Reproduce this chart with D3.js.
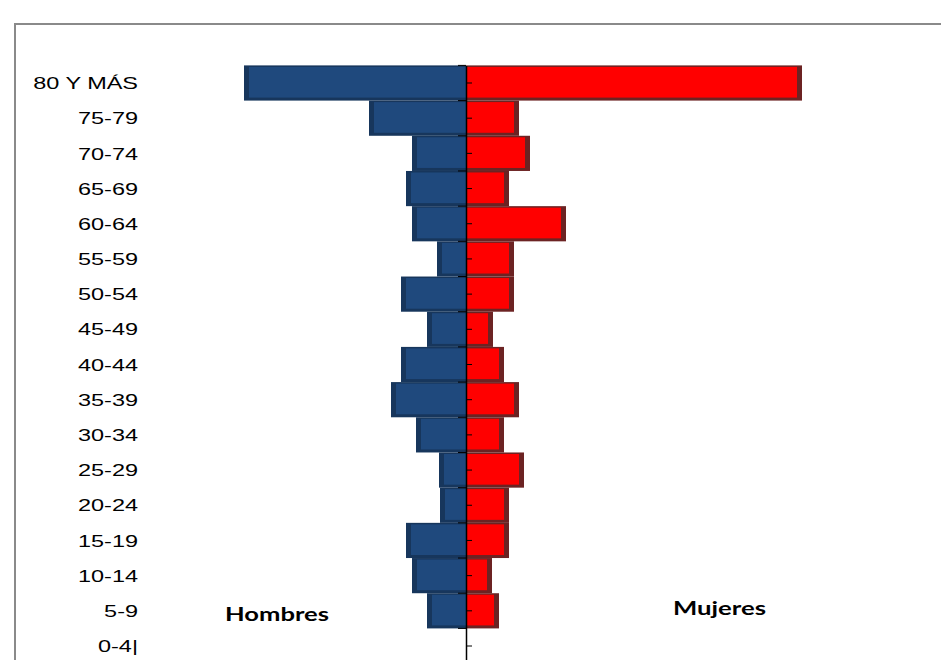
<!DOCTYPE html>
<html>
<head>
<meta charset="utf-8">
<script src="https://cdn.jsdelivr.net/npm/d3@7"></script>
<style>
  body { margin: 0; background: #fff; }
  svg { display: block; }
</style>
</head>
<body>
<div id="chart"></div>
<script>
// Age groups, top to bottom
const ageGroups = ["80 Y MÁS", "75-79", "70-74", "65-69", "60-64", "55-59", "50-54", "45-49",
  "40-44", "35-39", "30-34", "25-29", "20-24", "15-19", "10-14", "5-9", "0-4|"];
// Men (drawn to the left) and women (drawn to the right)
const hombres = [222, 97, 54, 60, 54, 29, 65, 39, 65, 75, 50, 27, 26, 60, 54, 39, 0];
const mujeres = [336, 53, 64, 43, 100, 48, 48, 27, 38, 53, 38, 58, 43, 43, 26, 33, 0];
const sexLabels = ["Hombres", "Mujeres"];

const width = 941;
const height = 660;

const svg = d3.select("#chart").append("svg")
  .attr("width", width)
  .attr("height", height);

// Chart frame (cropped at the right and bottom)
svg.append("rect")
  .attr("x", 15).attr("y", 24)
  .attr("width", 1000).attr("height", 1000)
  .attr("fill", "none")
  .attr("stroke", "#8a8a8a")
  .attr("stroke-width", 2);

// Scales
const y = d3.scaleBand()
  .domain(ageGroups)
  .range([65.4, 663.6])
  .padding(0);

const x = d3.scaleLinear()
  .domain([-300, 300])
  .range([166, 766]);

const rows = ageGroups.map((g, i) => ({ group: g, men: hombres[i], women: mujeres[i] }));

// Men bars: dark base with inset fill (shadow on left and bottom)
const men = svg.append("g").selectAll("g").data(rows.filter((d) => d.men > 0)).join("g");
men.append("rect")
  .attr("x", (d) => x(-d.men))
  .attr("y", (d) => y(d.group))
  .attr("width", (d) => x(0) - x(-d.men))
  .attr("height", y.bandwidth())
  .attr("fill", "#17365c");
men.append("rect")
  .attr("x", (d) => x(-d.men) + 5)
  .attr("y", (d) => y(d.group) + 1.5)
  .attr("width", (d) => x(0) - x(-d.men) - 5)
  .attr("height", y.bandwidth() - 4.5)
  .attr("fill", "#1f497d");

// Women bars: dark base with inset fill (shadow on right and bottom)
const women = svg.append("g").selectAll("g").data(rows.filter((d) => d.women > 0)).join("g");
women.append("rect")
  .attr("x", x(0))
  .attr("y", (d) => y(d.group))
  .attr("width", (d) => x(d.women) - x(0))
  .attr("height", y.bandwidth())
  .attr("fill", "#6c2323");
women.append("rect")
  .attr("x", x(0))
  .attr("y", (d) => y(d.group) + 1.5)
  .attr("width", (d) => x(d.women) - x(0) - 5)
  .attr("height", y.bandwidth() - 4.5)
  .attr("fill", "#ff0000");

// Center axis with minor ticks at category centres
const axis = svg.append("g")
  .attr("transform", `translate(${x(0)},0)`)
  .call(d3.axisRight(y).tickSize(6).tickSizeOuter(0).tickFormat(""));
axis.select(".domain").attr("stroke", "#000").attr("stroke-width", 1.5);
axis.selectAll(".tick line").attr("stroke", "#000");

// Boundary ticks to the left of the axis
const bounds = ageGroups.map((g) => y(g)).concat([y.range()[1]]);
svg.append("g").selectAll("line").data(bounds).join("line")
  .attr("x1", x(0) - 8).attr("x2", x(0))
  .attr("y1", (d) => d).attr("y2", (d) => d)
  .attr("stroke", "#000");

// Category labels
const labels = svg.append("g")
  .attr("transform", "translate(138,0)")
  .call(d3.axisLeft(y).tickSize(0).tickPadding(0));
labels.select(".domain").remove();
labels.selectAll(".tick text")
  .attr("x", 0)
  .attr("dy", "0.36em")
  .attr("font-family", "'Liberation Sans', Arial, sans-serif")
  .attr("font-size", 17)
  .attr("fill", "#000")
  .attr("transform", "scale(1.38,1)");

// Sex labels
svg.append("text")
  .attr("x", 225).attr("y", 621)
  .attr("font-family", "Lato, 'Open Sans', sans-serif")
  .attr("font-weight", "bold")
  .attr("font-size", 19.5)
  .attr("textLength", 104)
  .attr("lengthAdjust", "spacingAndGlyphs")
  .text(sexLabels[0]);
svg.append("text")
  .attr("x", 673).attr("y", 615)
  .attr("font-family", "Lato, 'Open Sans', sans-serif")
  .attr("font-weight", "bold")
  .attr("font-size", 19.5)
  .attr("textLength", 93)
  .attr("lengthAdjust", "spacingAndGlyphs")
  .text(sexLabels[1]);
</script>
</body>
</html>
